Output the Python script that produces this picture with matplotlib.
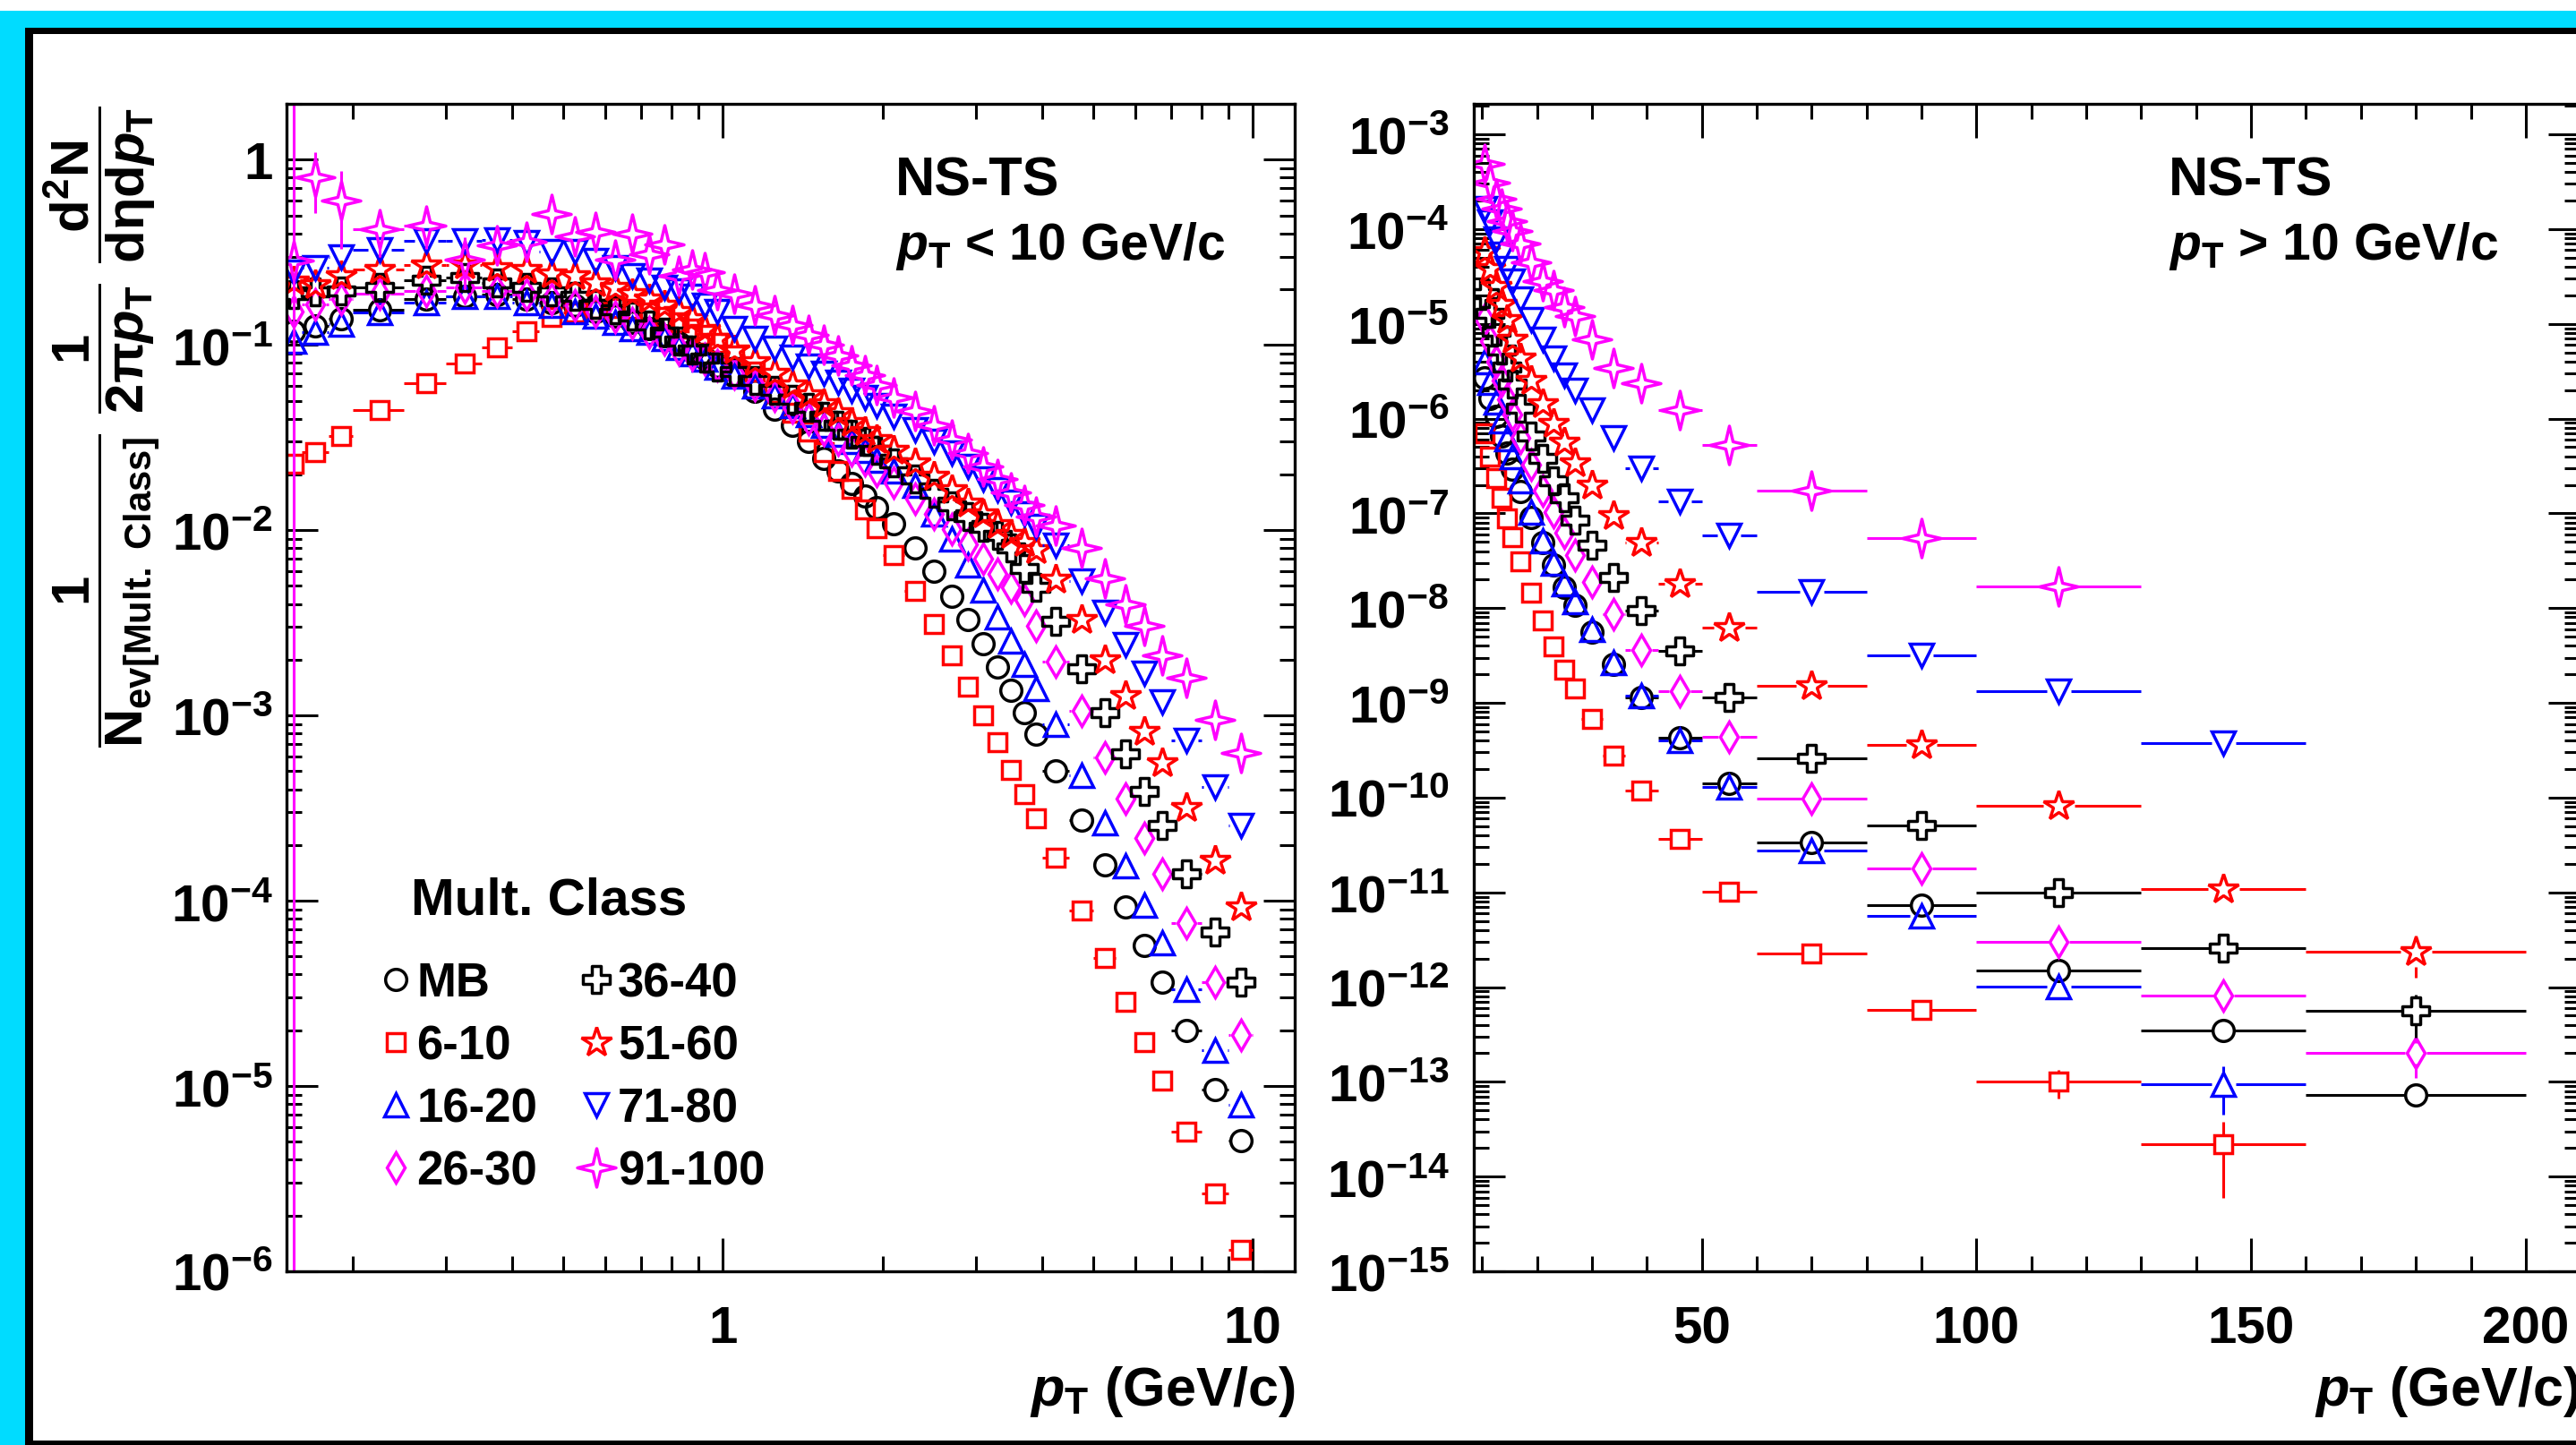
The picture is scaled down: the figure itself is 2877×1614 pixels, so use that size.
import numpy as np
import matplotlib
matplotlib.use("Agg")
import matplotlib.pyplot as plt
from matplotlib.ticker import LogLocator, MultipleLocator, FuncFormatter, NullFormatter
from matplotlib.patches import Rectangle
from matplotlib.lines import Line2D
from matplotlib.path import Path
from matplotlib.collections import LineCollection

# pT bins (GeV/c)
pt_edges_low = [0.15, 0.16, 0.18, 0.20, 0.25, 0.30, 0.35, 0.40, 0.45, 0.50, 0.55,
                0.60, 0.65, 0.70, 0.75, 0.80, 0.85, 0.90, 0.95, 1.0, 1.1, 1.2, 1.3,
                1.4, 1.5, 1.6, 1.7, 1.8, 1.9, 2.0, 2.2, 2.4, 2.6, 2.8, 3.0, 3.2, 3.4,
                3.6, 3.8, 4.0, 4.5, 5.0, 5.5, 6.0, 6.5, 7.0, 8.0, 9.0, 10.0]
pt_edges_high = [10, 11, 12, 13, 14, 15, 16, 18, 20, 22, 24, 26, 28, 32, 36, 42,
                 50, 60, 80, 100, 130, 160, 200]

classes = ["MB", "6-10", "16-20", "26-30", "36-40", "51-60", "71-80", "91-100"]

# yields, pT < 10 GeV/c
low_mb = [0.119, 0.126, 0.138, 0.154, 0.176, 0.183, 0.186, 0.176, 0.170, 0.163, 0.152,
          0.143, 0.133, 0.123, 0.112, 0.102, 0.093, 0.085, 0.077, 0.068, 0.056, 0.045,
          0.037, 0.030, 0.0245, 0.021, 0.0178, 0.0153, 0.0132, 0.0108, 0.0080, 0.0060,
          0.0044, 0.0033, 0.00244, 0.00183, 0.00137, 0.00104, 0.00079, 0.00050,
          2.74e-4, 1.57e-4, 9.25e-5, 5.73e-5, 3.65e-5, 2.0e-5, 9.6e-6, 5.06e-6]
low_6_10 = [0.0228, 0.0265, 0.0321, 0.0445, 0.0622, 0.0791, 0.097, 0.119, 0.141, 0.150,
            0.156, 0.158, 0.156, 0.150, 0.142, 0.133, 0.123, 0.113, 0.103, 0.088, 0.072,
            0.055, 0.043, 0.034, 0.0265, 0.021, 0.0168, 0.013, 0.0102, 0.0073, 0.00468,
            0.00311, 0.00211, 0.00143, 0.0010, 7.2e-4, 5.1e-4, 3.76e-4, 2.79e-4,
            1.71e-4, 8.9e-5, 4.93e-5, 2.86e-5, 1.72e-5, 1.07e-5, 5.67e-6, 2.62e-6, 1.3e-6]
low_16_20 = [0.105, 0.117, 0.130, 0.149, 0.170, 0.183, 0.183, 0.170, 0.163, 0.152, 0.143,
             0.133, 0.123, 0.117, 0.108, 0.097, 0.090, 0.084, 0.076, 0.068, 0.060, 0.053,
             0.047, 0.042, 0.037, 0.033, 0.030, 0.027, 0.024, 0.021, 0.0175, 0.0123,
             0.00895, 0.00653, 0.00477, 0.00341, 0.00253, 0.00188, 0.0014, 8.97e-4,
             4.77e-4, 2.63e-4, 1.55e-4, 9.5e-5, 5.96e-5, 3.32e-5, 1.57e-5, 7.9e-6]
low_26_30 = [0.152, 0.166, 0.176, 0.190, 0.196, 0.204, 0.196, 0.186, 0.176, 0.163, 0.152,
             0.141, 0.131, 0.117, 0.107, 0.095, 0.089, 0.084, 0.078, 0.070, 0.061, 0.053,
             0.046, 0.040, 0.035, 0.031, 0.027, 0.024, 0.021, 0.018, 0.0148, 0.0122,
             0.0101, 0.0084, 0.0070, 0.0058, 0.0049, 0.0042, 0.00306, 0.00195, 0.00106,
             5.97e-4, 3.55e-4, 2.19e-4, 1.40e-4, 7.6e-5, 3.65e-5, 1.89e-5]
low_36_40 = [0.186, 0.193, 0.196, 0.204, 0.224, 0.232, 0.216, 0.204, 0.193, 0.183, 0.166,
             0.155, 0.143, 0.128, 0.117, 0.105, 0.094, 0.085, 0.076, 0.072, 0.064, 0.057,
             0.051, 0.046, 0.041, 0.037, 0.033, 0.030, 0.027, 0.023, 0.019, 0.0158,
             0.0135, 0.0118, 0.0104, 0.0094, 0.0080, 0.0062, 0.0049, 0.00323, 0.00178,
             0.00104, 6.19e-4, 3.9e-4, 2.54e-4, 1.40e-4, 6.8e-5, 3.65e-5]
low_51_60 = [0.220, 0.212, 0.237, 0.255, 0.270, 0.270, 0.260, 0.255, 0.241, 0.237, 0.216,
             0.204, 0.190, 0.176, 0.163, 0.152, 0.138, 0.121, 0.108, 0.094, 0.081, 0.070,
             0.061, 0.054, 0.048, 0.043, 0.038, 0.034, 0.031, 0.027, 0.023, 0.0195,
             0.0165, 0.014, 0.0122, 0.0107, 0.0095, 0.0086, 0.00787, 0.00543, 0.00329,
             0.00199, 0.00128, 8.2e-4, 5.55e-4, 3.18e-4, 1.66e-4, 9.25e-5]
low_71_80 = [0.246, 0.260, 0.300, 0.325, 0.363, 0.363, 0.370, 0.356, 0.318, 0.318, 0.285,
             0.260, 0.236, 0.224, 0.204, 0.196, 0.183, 0.163, 0.152, 0.122, 0.108, 0.096,
             0.086, 0.077, 0.070, 0.063, 0.057, 0.052, 0.047, 0.041, 0.035, 0.030, 0.026,
             0.022, 0.019, 0.0165, 0.0142, 0.0122, 0.0105, 0.0083, 0.00532, 0.0036,
             0.0024, 0.00169, 0.00119, 7.33e-4, 4.12e-4, 2.54e-4]
low_91_100 = [0.285, 0.806, 0.600, 0.420, 0.440, 0.290, 0.343, 0.359, 0.507, 0.384, 0.406,
              0.290, 0.398, 0.307, 0.350, 0.237, 0.255, 0.246, 0.197, 0.190, 0.163, 0.145,
              0.128, 0.113, 0.100, 0.088, 0.078, 0.069, 0.061, 0.052, 0.044, 0.037, 0.031,
              0.026, 0.022, 0.0188, 0.016, 0.0137, 0.0118, 0.0106, 0.0080, 0.00552,
              0.00396, 0.00306, 0.00211, 0.0016, 9.5e-4, 6.3e-4]
err_low_91_100 = [5.0, 0.29, 0.27, 0.12, 0.11, 0.09, 0.07, 0.05, 0.05] + [0.0] * 39

nan = float("nan")
# yields, pT > 10 GeV/c
high_mb = [2.7e-6, 1.65e-6, 1.05e-6, 6.6e-7, 4.3e-7, 2.9e-7, 1.7e-7, 9.0e-8, 4.9e-8,
           2.85e-8, 1.66e-8, 1.08e-8, 5.6e-9, 2.57e-9, 1.14e-9, 4.27e-10, 1.4e-10,
           3.35e-11, 7.3e-12, 1.5e-12, 3.47e-13, 7.3e-14]
high_6_10 = [7.0e-7, 4.0e-7, 2.35e-7, 1.45e-7, 8.8e-8, 5.6e-8, 3.1e-8, 1.45e-8, 7.4e-9,
             3.9e-9, 2.25e-9, 1.42e-9, 6.7e-10, 2.8e-10, 1.18e-10, 3.7e-11, 1.02e-11,
             2.25e-12, 5.7e-13, 1.0e-13, 2.2e-14, nan]
high_16_20 = [4.0e-6, 2.4e-6, 1.5e-6, 9.5e-7, 6.1e-7, 4.0e-7, 2.2e-7, 1.02e-7, 5.1e-8,
              2.96e-8, 1.79e-8, 1.17e-8, 6.0e-9, 2.68e-9, 1.19e-9, 4.0e-10, 1.3e-10,
              2.76e-11, 5.7e-12, 1.02e-12, 9.5e-14, nan]
high_26_30 = [1.1e-5, 6.6e-6, 4.0e-6, 2.5e-6, 1.6e-6, 1.1e-6, 6.3e-7, 3.3e-7, 1.75e-7,
              1.02e-7, 6.2e-8, 3.6e-8, 1.9e-8, 8.7e-9, 3.6e-9, 1.33e-9, 4.4e-10, 9.8e-11,
              1.8e-11, 3.0e-12, 8.1e-13, 2.0e-13]
high_36_40 = [2.1e-5, 1.3e-5, 8.3e-6, 5.3e-6, 3.5e-6, 2.3e-6, 1.3e-6, 6.5e-7, 3.8e-7,
              2.2e-7, 1.45e-7, 8.5e-8, 4.6e-8, 2.12e-8, 9.4e-9, 3.5e-9, 1.14e-9, 2.6e-10,
              5.1e-11, 1.0e-11, 2.6e-12, 5.6e-13]
high_51_60 = [5.8e-5, 3.8e-5, 2.5e-5, 1.62e-5, 1.1e-5, 6.9e-6, 4.36e-6, 2.54e-6, 1.42e-6,
              8.9e-7, 5.6e-7, 3.39e-7, 1.97e-7, 9.4e-8, 4.9e-8, 1.79e-8, 6.2e-9, 1.52e-9,
              3.58e-10, 8.2e-11, 1.08e-11, 2.36e-12]
high_71_80 = [1.66e-4, 1.2e-4, 7.9e-5, 5.4e-5, 3.8e-5, 2.8e-5, 1.83e-5, 1.1e-5, 6.9e-6,
              4.36e-6, 2.85e-6, 2.0e-6, 1.22e-6, 6.3e-7, 3.0e-7, 1.34e-7, 5.8e-8, 1.48e-8,
              3.2e-9, 1.33e-9, 3.8e-10, nan]
high_91_100 = [4.9e-4, 3.08e-4, 2.1e-4, 1.66e-4, 1.22e-4, 9.6e-5, 7.1e-5, 4.45e-5, 2.8e-5,
               2.25e-5, 1.5e-5, 1.21e-5, 6.9e-6, 3.46e-6, 2.38e-6, 1.22e-6, 5.3e-7,
               1.73e-7, 5.5e-8, 1.68e-8, nan, nan]
err_high_6_10 = [0.0] * 19 + [3.4e-14, 1.6e-14, 0.0]
err_high_16_20 = [0.0] * 20 + [5.0e-14, 0.0]
err_high_26_30 = [0.0] * 21 + [0.9e-13]
err_high_36_40 = [0.0] * 20 + [0.3e-12, 2.7e-13]
err_high_51_60 = [0.0] * 20 + [3.5e-12, 1.1e-12]
err_high_91_100 = [0.0] * 19 + [3.0e-9, 0.0, 0.0]

W, H = 2877, 1615
DPI = 100

plt.rcParams["font.family"] = ["Liberation Sans", "DejaVu Sans"]
plt.rcParams["font.weight"] = "bold"
plt.rcParams["mathtext.fontset"] = "custom"
plt.rcParams["mathtext.rm"] = "Liberation Sans:bold"
plt.rcParams["mathtext.bf"] = "Liberation Sans:bold"
plt.rcParams["mathtext.it"] = "Liberation Sans:bold:italic"
plt.rcParams["mathtext.default"] = "rm"

# ROOT-like open markers
cross = Path([(-1, 3), (1, 3), (1, 1), (3, 1), (3, -1), (1, -1), (1, -3), (-1, -3),
              (-1, -1), (-3, -1), (-3, 1), (-1, 1), (-1, 3)], closed=True)
star4 = Path([(0, 1), (0.19, 0.19), (1, 0), (0.19, -0.19), (0, -1), (-0.19, -0.19),
              (-1, 0), (-0.19, 0.19), (0, 1)], closed=True)

colors = ["black", "red", "blue", "magenta", "black", "red", "blue", "magenta"]
markers = ["o", "s", "^", "d", cross, "*", "v", star4]
msizes = [17, 15, 19, 17, 22, 25, 19, 31]
MEW = 2.5
LW = 2.2

fig = plt.figure(figsize=(W / DPI, H / DPI), dpi=DPI)
fig.patch.set_facecolor("white")


def fx(px):
    return px / W


def fy(py):
    return 1 - py / H


# canvas frame
frame = [((0, 13), (W, 32), "#00dcff"), ((0, 13), (28, H), "#00dcff"),
         ((28, 32), (W, 39), "black"), ((28, 32), (37, H), "black"),
         ((28, 1610), (W, H), "black")]
for (x0, y0), (x1, y1), c in frame:
    fig.add_artist(Rectangle((fx(x0), fy(y1)), fx(x1 - x0), (y1 - y0) / H,
                             transform=fig.transFigure, color=c, lw=0, zorder=0))

ax1 = fig.add_axes([fx(320), fy(1421), fx(1446 - 320), (1421 - 117) / H])
ax2 = fig.add_axes([fx(1646), fy(1421), fx(2881 - 1646), (1421 - 117) / H])

ax1.set_xscale("log")
ax1.set_yscale("log")
ax1.set_xlim(0.15, 12.0)
ax1.set_ylim(1e-6, 2.0)
ax2.set_yscale("log")
ax2.set_xlim(8.5, 209.8)
ax2.set_ylim(1e-15, 2.1e-3)


def draw_class(ax, edges, vals, errs, color, marker, ms, z):
    lo = np.array(edges[:-1], float)
    hi = np.array(edges[1:], float)
    x = 0.5 * (lo + hi)
    y = np.array(vals, float)
    e = np.zeros_like(y) if errs is None else np.array(errs, float)
    half = ms * DPI / 72.0 / 2.0
    to = ax.transData
    inv = to.inverted()
    ybot = ax.get_ylim()[0] * 0.1
    segs = []
    for xi, l, h, yi, ei in zip(x, lo, hi, y, e):
        if not np.isfinite(yi):
            continue
        px, py = to.transform((xi, yi))
        pl = to.transform((l, yi))[0]
        ph = to.transform((h, yi))[0]
        # bars stop at the marker edge
        if px - half > pl:
            segs.append([inv.transform((pl, py)), inv.transform((px - half, py))])
        if ph > px + half:
            segs.append([inv.transform((px + half, py)), inv.transform((ph, py))])
        if ei > 0:
            pt_ = to.transform((xi, yi + ei))[1]
            pb_ = to.transform((xi, yi - ei if yi - ei > 0 else ybot))[1]
            if pt_ > py + half:
                segs.append([inv.transform((px, py + half)), inv.transform((px, pt_))])
            if pb_ < py - half:
                segs.append([inv.transform((px, pb_)), inv.transform((px, py - half))])
    ax.add_collection(LineCollection(segs, colors=color, linewidths=LW, zorder=z))
    ok = np.isfinite(y)
    ax.plot(x[ok], y[ok], ls="none", marker=marker, ms=ms, mfc="none", mec=color,
            mew=MEW, zorder=z + 0.05)


low_sets = [low_mb, low_6_10, low_16_20, low_26_30, low_36_40, low_51_60, low_71_80,
            low_91_100]
low_errs = [None] * 7 + [err_low_91_100]
high_sets = [high_mb, high_6_10, high_16_20, high_26_30, high_36_40, high_51_60,
             high_71_80, high_91_100]
high_errs = [None, err_high_6_10, err_high_16_20, err_high_26_30, err_high_36_40,
             err_high_51_60, None, err_high_91_100]

for i in range(8):
    draw_class(ax1, pt_edges_low, low_sets[i], low_errs[i], colors[i], markers[i],
               msizes[i], 2 + 0.1 * i)
    draw_class(ax2, pt_edges_high, high_sets[i], high_errs[i], colors[i], markers[i],
               msizes[i], 2 + 0.1 * i)


def pow_label(v, pos):
    if v <= 0:
        return ""
    k = int(round(np.log10(v)))
    if k == 0:
        return "1"
    if k == 1:
        return "10"
    return r"$10^{%d}$" % k


for ax in (ax1, ax2):
    for sp in ax.spines.values():
        sp.set_linewidth(2.4)
        sp.set_zorder(10)
    ax.yaxis.set_major_locator(LogLocator(base=10, numticks=40))
    ax.yaxis.set_minor_locator(LogLocator(base=10, subs=np.arange(2, 10), numticks=400))
    ax.yaxis.set_major_formatter(FuncFormatter(pow_label))
    ax.yaxis.set_minor_formatter(NullFormatter())
    ax.tick_params(which="both", direction="in", top=True, right=True, width=2.2,
                   labelsize=42)
    ax.tick_params(which="major", length=25)
    ax.tick_params(which="minor", length=12.5)
    ax.tick_params(axis="x", which="major", length=27)
    ax.tick_params(axis="x", pad=27)

ax1.tick_params(axis="y", pad=11)
ax2.tick_params(axis="y", pad=20)
ax1.xaxis.set_major_locator(LogLocator(base=10, numticks=10))
ax1.xaxis.set_minor_locator(LogLocator(base=10, subs=np.arange(2, 10), numticks=40))
ax1.xaxis.set_major_formatter(FuncFormatter(pow_label))
ax1.xaxis.set_minor_formatter(NullFormatter())
ax2.xaxis.set_major_locator(MultipleLocator(50))
ax2.xaxis.set_minor_locator(MultipleLocator(10))
ax2.xaxis.set_major_formatter(FuncFormatter(lambda v, p: "%d" % v))

xtitle = r"$\mathit{p}_{\mathrm{T}}$ (GeV/c)"
for ax, cut, tx in ((ax1, "<", 0.604), (ax2, ">", 0.628)):
    ax.set_xlabel(xtitle, fontsize=44, fontweight="bold", loc="right", labelpad=8)
    ax.text(tx, 0.934, "NS-TS", transform=ax.transAxes,
            fontsize=44, fontweight="bold", ha="left", va="center")
    ax.text(tx, 0.879, r"$\mathit{p}_{\mathrm{T}}$ %s 10 GeV/c" % cut,
            transform=ax.transAxes, fontsize=41, fontweight="bold", ha="left",
            va="center")

fig.text(fx(114), fy(118),
         r"$\dfrac{1}{N_{ev[Mult.\ Class]}}\ \dfrac{1}{2\pi \mathit{p}_{T}}\ "
         r"\dfrac{d^{2}N}{d\eta d\mathit{p}_{T}}$",
         rotation=90, ha="center", va="top", fontsize=43)

handles = [Line2D([], [], ls="none", marker=markers[i], ms=msizes[i], mfc="none",
                  mec=colors[i], mew=MEW) for i in range(8)]
ax1.legend(handles, classes, ncol=2, loc="upper left",
           bbox_to_anchor=(0.0705, 0.286), frameon=False,
           prop={"size": 38, "weight": "bold"},
           handlelength=0.6, handletextpad=0.15, columnspacing=0.95,
           labelspacing=0.38, borderpad=0.0)
ax1.text(0.1234, 0.318, "Mult. Class", transform=ax1.transAxes, fontsize=42,
         fontweight="bold", ha="left", va="center")

fig.savefig("out.png", dpi=DPI)
